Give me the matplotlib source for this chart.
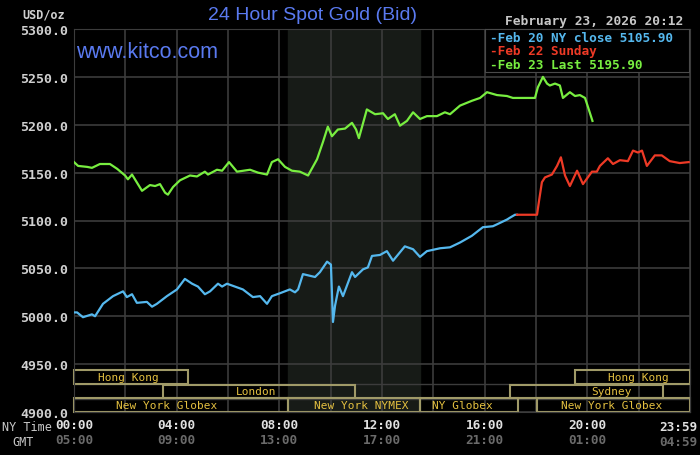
import matplotlib
matplotlib.use("Agg")
import matplotlib.pyplot as plt
from matplotlib.patches import Rectangle

# hours after 00:00 NY time, price in USD/oz
feb20_t = [0, 0.12, 0.35, 0.70, 0.82, 1.13, 1.52, 1.91, 2.06, 2.26, 2.45, 2.84, 3.04, 3.23,
           3.62, 4.01, 4.32, 4.60, 4.83, 5.10, 5.30, 5.61, 5.77, 5.96, 6.27, 6.58, 6.97,
           7.25, 7.52, 7.71, 8.02, 8.41, 8.61, 8.73, 8.92, 9.39, 9.58, 9.86, 10.01, 10.09,
           10.17, 10.32, 10.48, 10.83, 10.95, 11.26, 11.45, 11.61, 11.92, 12.19, 12.43,
           12.89, 13.21, 13.48, 13.75, 14.26, 14.65, 15.04, 15.50, 15.93, 16.32, 16.48,
           16.87, 16.99, 17.18, 17.26]
feb20_p = [5004, 5004, 4999, 5002, 5000, 5013, 5021, 5026, 5020, 5023, 5014, 5015, 5010, 5013,
           5021, 5028, 5039, 5034, 5031, 5023, 5026, 5034, 5031, 5034, 5031, 5028, 5020,
           5021, 5013, 5021, 5024, 5028, 5025, 5028, 5044, 5041, 5046, 5057, 5054, 4994,
           5011, 5031, 5021, 5046, 5041, 5049, 5051, 5063, 5064, 5068, 5058,
           5073, 5070, 5062, 5068, 5071, 5072, 5077, 5084, 5093, 5094, 5096,
           5101, 5103, 5106, 5106]

feb22_t = [17.26, 18.04, 18.11, 18.23, 18.35, 18.62, 18.82, 18.97, 19.13, 19.32, 19.60, 19.83,
           20.18, 20.37, 20.49, 20.80, 21.00, 21.27, 21.58, 21.78, 21.97, 22.13, 22.32,
           22.63, 22.90, 23.21, 23.60, 23.95]
feb22_p = [5106, 5106, 5119, 5140, 5145, 5148, 5157, 5166, 5147, 5136, 5152, 5138,
           5151, 5151, 5157, 5165, 5159, 5163, 5162, 5173, 5171, 5173, 5157,
           5168, 5168, 5162, 5160, 5161]

feb23_t = [0, 0.16, 0.51, 0.70, 1.01, 1.40, 1.68, 1.99, 2.10, 2.26, 2.65, 2.96, 3.16, 3.35,
           3.55, 3.66, 3.86, 4.13, 4.52, 4.79, 5.10, 5.22, 5.57, 5.77, 6.04, 6.35, 6.86,
           7.17, 7.52, 7.71, 7.95, 8.22, 8.49, 8.80, 9.12, 9.47, 9.70, 9.89, 10.05, 10.28,
           10.56, 10.83, 10.99, 11.10, 11.41, 11.73, 12.04, 12.23, 12.50, 12.70, 12.97,
           13.21, 13.48, 13.75, 14.14, 14.45, 14.65, 15.04, 15.50, 15.82, 16.09, 16.48,
           16.87, 17.10, 17.96, 18.07, 18.27, 18.43, 18.54, 18.74, 18.93, 19.05, 19.32,
           19.52, 19.71, 19.91, 20.02, 20.20]
feb23_p = [5161, 5157, 5156, 5155, 5159, 5159, 5154, 5147, 5143, 5148, 5131, 5137, 5136, 5138,
           5129, 5127, 5135, 5142, 5147, 5146, 5151, 5148, 5153, 5152, 5161, 5151, 5153,
           5150, 5148, 5161, 5164, 5156, 5152, 5151, 5147, 5164, 5182, 5198, 5188, 5195,
           5196, 5202, 5195, 5186, 5216, 5211, 5212, 5206, 5211, 5199, 5204,
           5213, 5206, 5209, 5209, 5213, 5211, 5220, 5225, 5228, 5234, 5231,
           5230, 5228, 5228, 5239, 5250, 5243, 5241, 5243, 5241, 5228, 5234,
           5230, 5231, 5228, 5219, 5204]

y_ticks = [4900, 4950, 5000, 5050, 5100, 5150, 5200, 5250, 5300]
ny_labels = ["00:00", "04:00", "08:00", "12:00", "16:00", "20:00"]
gmt_labels = ["05:00", "09:00", "13:00", "17:00", "21:00", "01:00"]

# name, row, start, end, label centre
sessions = [
    ("Hong Kong", 0, 0, 4.45, 2.1),
    ("Hong Kong", 0, 19.52, 24, 22.0),
    ("London", 1, 3.47, 10.95, 7.1),
    ("Sydney", 1, 17.0, 22.95, 20.96),
    ("New York Globex", 2, 0, 8.33, 3.6),
    ("New York NYMEX", 2, 8.33, 13.48, 11.2),
    ("NY Globex", 2, 13.48, 17.3, 15.15),
    ("New York Globex", 2, 18.04, 24, 20.96),
]

grid_c = "#3c3c3c"
mono = "DejaVu Sans Mono"

fig = plt.figure(figsize=(7, 4.56), dpi=100, facecolor="black")
ax = fig.add_axes([74 / 700, 1 - 413 / 456, 616 / 700, 383 / 456])
ax.set_facecolor("black")
ax.set_xlim(0, 24)
ax.set_ylim(4900, 5300)

ax.axvspan(8.33, 13.48, color="#171b17", zorder=0)
for v in range(0, 25, 2):
    ax.axvline(v, color=grid_c, lw=1.2, zorder=1)
for h in y_ticks:
    ax.axhline(h, color=grid_c, lw=1.2, zorder=1)

# session rows
row_bot = [4929.5, 4914.5, 4900]
row_h = 14.2
for b in [4929, 4914]:
    ax.axhline(b, color=grid_c, lw=1.0, zorder=1)
for name, row, s, e, lx in sessions:
    ax.add_patch(Rectangle((s, row_bot[row]), e - s, row_h, fill=False,
                           edgecolor="#a09a68", lw=1.5, zorder=2, clip_on=False))
    ax.text(lx, row_bot[row] + row_h / 2, name, color="#e4c040", fontsize=8,
            family=mono, ha="center", va="center", zorder=3)

ax.plot(feb20_t, feb20_p, color="#55b8ee", lw=1.6, zorder=4)
ax.plot(feb22_t, feb22_p, color="#ee3a26", lw=1.6, zorder=4)
ax.plot(feb23_t, feb23_p, color="#78ee40", lw=1.6, zorder=4)

for sp in ax.spines.values():
    sp.set_color(grid_c)
ax.tick_params(length=0)
ax.set_yticks(y_ticks)
ax.set_yticklabels([f"{v:.1f}" for v in y_ticks], color="#d0d0d0", fontsize=9.5,
                   family=mono, fontweight="bold")
ax.tick_params(axis="y", pad=4)
ax.set_xticks([])

for i, (a, g) in enumerate(zip(ny_labels, gmt_labels)):
    ax.text(i * 4, 4887, a, color="#e0e0e0", fontsize=9.2, family=mono,
            fontweight="bold", ha="center", va="center")
    ax.text(i * 4, 4871.5, g, color="#6a6a6a", fontsize=9.2, family=mono,
            fontweight="bold", ha="center", va="center")
fig.text(697 / 700, 1 - 428 / 456, "23:59", color="#e0e0e0", fontsize=9.2, family=mono,
         fontweight="bold", ha="right", va="center")
fig.text(697 / 700, 1 - 443 / 456, "04:59", color="#6a6a6a", fontsize=9.2, family=mono,
         fontweight="bold", ha="right", va="center")
fig.text(2 / 700, 1 - 428 / 456, "NY Time", color="#c8c8c8", fontsize=8.5, family=mono,
         ha="left", va="center")
fig.text(12 / 700, 1 - 443 / 456, "GMT", color="#c8c8c8", fontsize=8.5, family=mono,
         ha="left", va="center")

fig.text(22 / 700, 1 - 15 / 456, "USD/oz", color="#d0d0d0", fontsize=8.5, family=mono,
         fontweight="bold", ha="left", va="center")
fig.text(313 / 700, 1 - 16 / 456, "24 Hour Spot Gold (Bid)", color="#5a7af0", fontsize=14,
         family="Liberation Sans", ha="center", va="center")
fig.text(76 / 700, 1 - 53 / 456, "www.kitco.com", color="#5a7af0", fontsize=15.5,
         family="Liberation Sans", ha="left", va="center")
fig.text(683 / 700, 1 - 22 / 456, "February 23, 2026 20:12", color="#c8c8c8", fontsize=9.3,
         family=mono, fontweight="bold", ha="right", va="center")

# legend box
leg = fig.add_axes([485 / 700, 1 - 73 / 456, 204 / 700, 43 / 456])
leg.set_facecolor("black")
leg.set_xticks([])
leg.set_yticks([])
for sp in leg.spines.values():
    sp.set_color("#4a4a4a")
leg_items = [("-Feb 20 NY close 5105.90", "#55b8ee"),
             ("-Feb 22 Sunday", "#ee3a26"),
             ("-Feb 23 Last 5195.90", "#78ee40")]
for i, (txt, c) in enumerate(leg_items):
    leg.text(0.025, 0.8 - i * 0.31, txt, color=c, fontsize=9.2, family=mono,
             fontweight="bold", ha="left", va="center", transform=leg.transAxes)

fig.savefig("out.png", dpi=100, facecolor="black")
